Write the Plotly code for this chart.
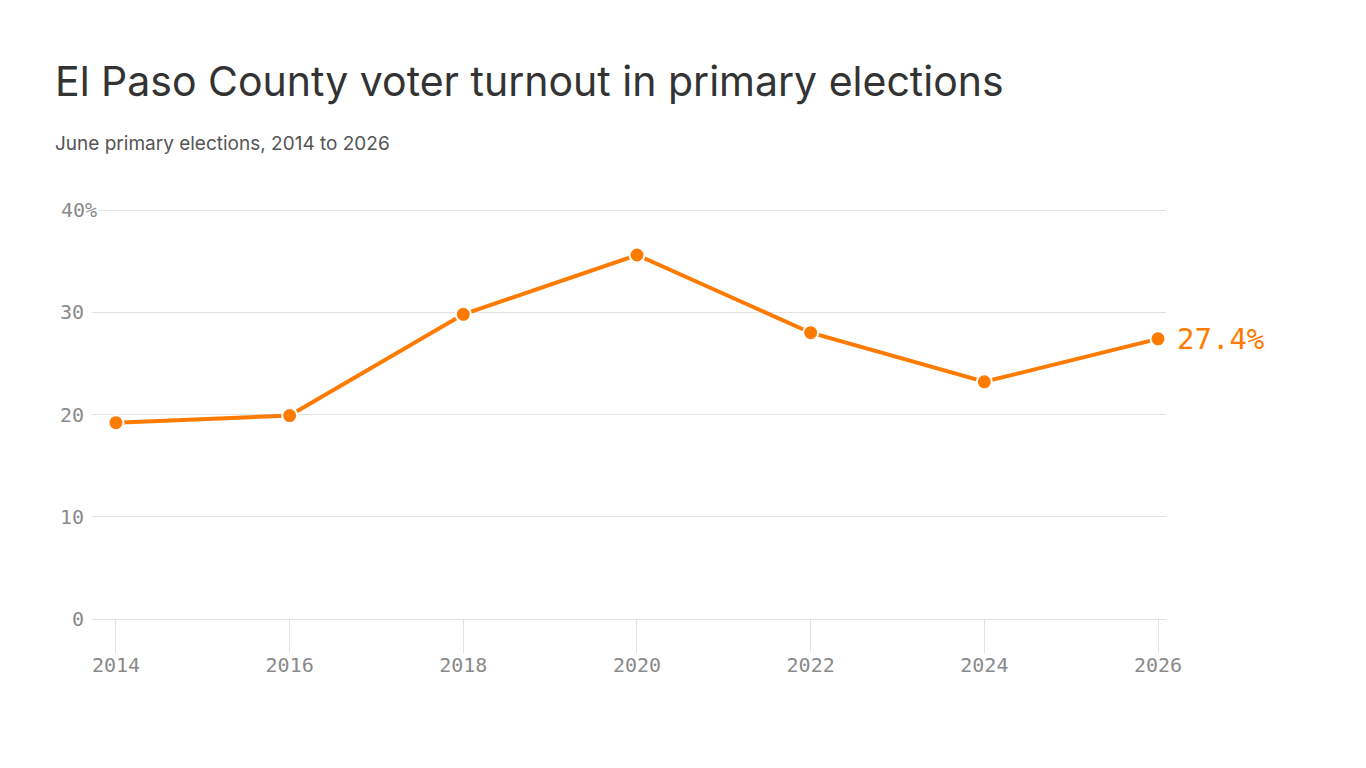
import plotly.graph_objects as go

years = [2014, 2016, 2018, 2020, 2022, 2024, 2026]
turnout = [19.2, 19.9, 29.8, 35.6, 28.0, 23.2, 27.4]
y_ticks = [0, 10, 20, 30, 40]
y_tick_labels = ["0", "10", "20", "30", "40%"]
x_ticks = years

title = "El Paso County voter turnout in primary elections"
subtitle = "June primary elections, 2014 to 2026"

ORANGE = "#FF7B00"
GRID = "#E2E2E2"
TICKFONT = dict(family="DejaVu Sans Mono", size=20, color="#8A8A8A")

W, H = 1366, 768
L, R, T, B = 92, 200, 209, 149
pw = W - L - R

fig = go.Figure()
fig.add_trace(go.Scatter(
    x=years, y=turnout, mode="lines+markers",
    line=dict(color=ORANGE, width=4),
    marker=dict(size=15, color=ORANGE, line=dict(color="white", width=2)),
    cliponaxis=False, hoverinfo="skip",
))

annotations = []
for v, t in zip(y_ticks, y_tick_labels):
    has_pct = t.endswith("%")
    xpix = 100 if has_pct else 87
    annotations.append(dict(
        x=(xpix - L) / pw, xref="paper", y=v, yref="y",
        text=t, showarrow=False, xanchor="right", yanchor="middle",
        font=TICKFONT, bgcolor="white" if has_pct else "rgba(0,0,0,0)",
        borderpad=2,
    ))

annotations.append(dict(
    x=years[-1], y=turnout[-1], xref="x", yref="y",
    text=f"{turnout[-1]}%", showarrow=False, xanchor="left", yanchor="middle",
    xshift=17, font=dict(family="DejaVu Sans Mono", size=29, color=ORANGE),
))

annotations.append(dict(
    x=(53 - L) / pw, xref="paper", y=(619 - 143) / 410, yref="paper",
    text=subtitle, showarrow=False, xanchor="left", yanchor="middle",
    font=dict(family="Inter", size=19, color="#555555"),
))

fig.update_layout(
    width=W, height=H,
    margin=dict(l=L, r=R, t=T, b=B),
    paper_bgcolor="white", plot_bgcolor="white",
    showlegend=False,
    title=dict(text=title, x=55 / W, xanchor="left", xref="container",
               y=1 - 82 / H, yanchor="middle", yref="container",
               font=dict(family="Inter", size=41, color="#333333")),
    annotations=annotations,
    xaxis=dict(
        range=[2013.724, 2026.092], tickvals=x_ticks,
        ticktext=[str(x) for x in x_ticks],
        showgrid=False, zeroline=False, showline=False,
        ticks="outside", ticklen=33, tickcolor=GRID, tickwidth=1,
        tickfont=TICKFONT, ticklabelstandoff=-5,
    ),
    yaxis=dict(
        range=[0, 40.1], tickvals=y_ticks, showticklabels=False,
        showgrid=True, gridcolor=GRID, gridwidth=1,
        zeroline=True, zerolinecolor=GRID, zerolinewidth=1,
        showline=False, ticks="",
    ),
)

fig.write_html("out.html")
